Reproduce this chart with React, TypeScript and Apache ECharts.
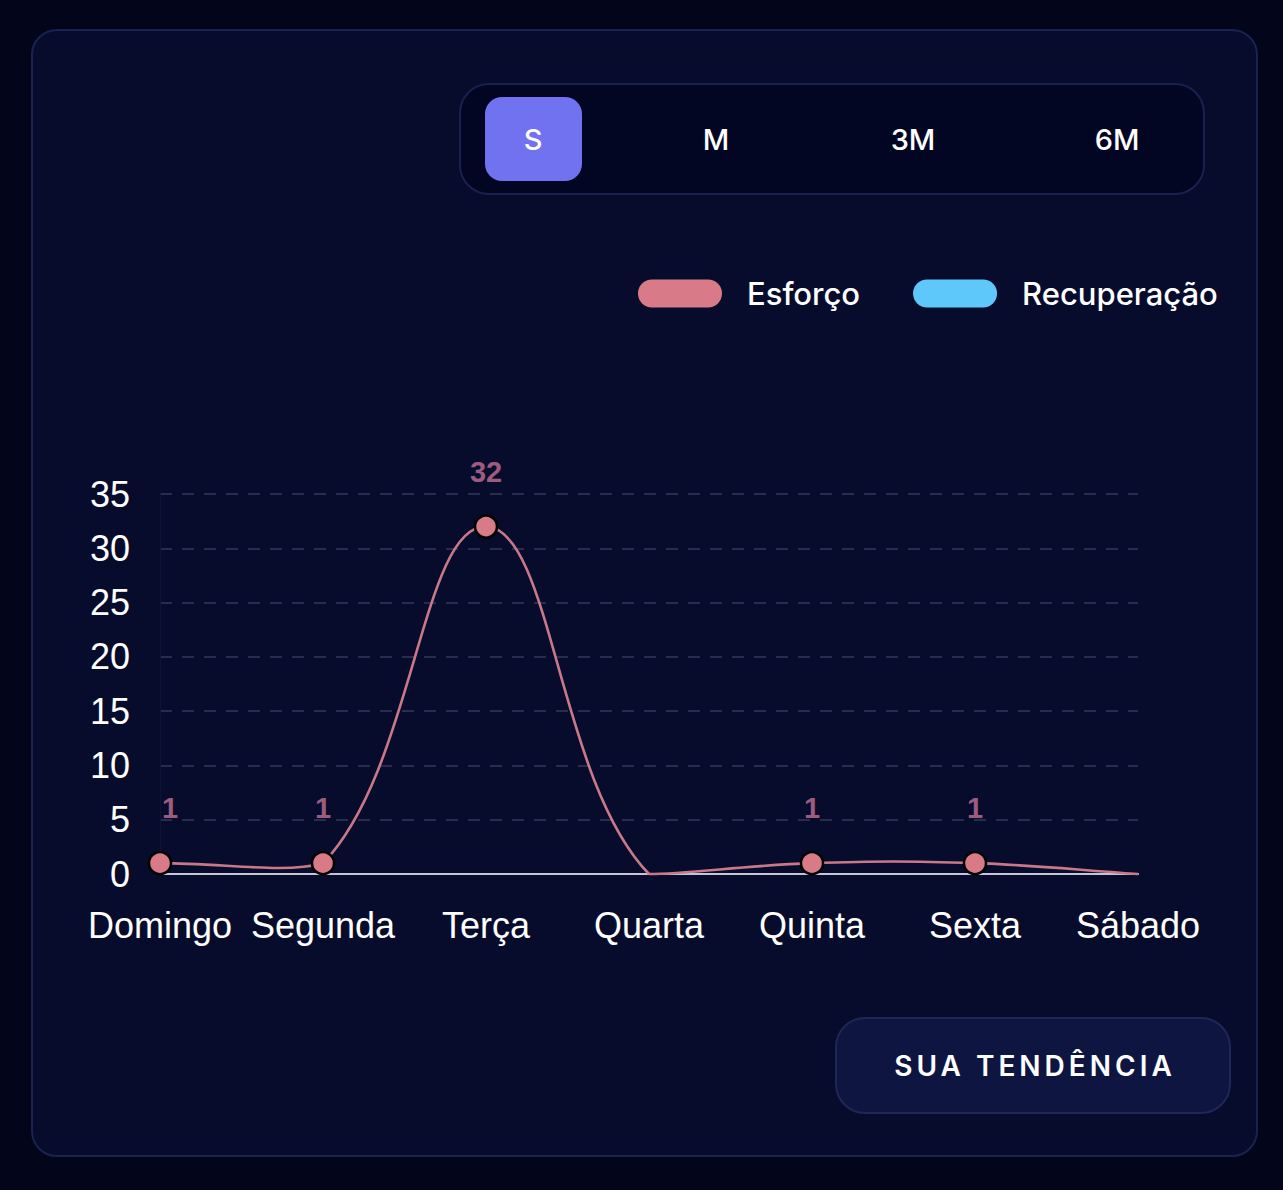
import React, { useEffect, useRef } from "react";
import * as echarts from "echarts";

const categories = ["Domingo", "Segunda", "Terça", "Quarta", "Quinta", "Sexta", "Sábado"];
const esforco = [1, 1, 32, 0, 1, 1, 0];
const recuperacao: (number | null)[] = [null, null, null, null, null, null, null];
const yTicks = { min: 0, max: 35, interval: 5 };
const periodTabs = ["S", "M", "3M", "6M"];
const legendNames = ["Esforço", "Recuperação"];

const UI_FONT = "Inter, 'Noto Sans', sans-serif";
const AXIS_FONT = "'Liberation Sans', Arial, Helvetica, sans-serif";
const TENSION = 0.4;

const pill = "path://M14,0 L70,0 A14,14 0 0 1 70,28 L14,28 A14,14 0 0 1 14,0 Z";

type Pt = { x: number; y: number };

function controlPoints(prev: Pt, cur: Pt, next: Pt, t: number) {
  const d01 = Math.hypot(cur.x - prev.x, cur.y - prev.y);
  const d12 = Math.hypot(next.x - cur.x, next.y - cur.y);
  let s01 = d01 / (d01 + d12);
  let s12 = d12 / (d01 + d12);
  if (isNaN(s01)) s01 = 0;
  if (isNaN(s12)) s12 = 0;
  const fa = t * s01;
  const fb = t * s12;
  return {
    previous: { x: cur.x - fa * (next.x - prev.x), y: cur.y - fa * (next.y - prev.y) },
    next: { x: cur.x + fb * (next.x - prev.x), y: cur.y + fb * (next.y - prev.y) },
  };
}

export default function App() {
  const ref = useRef<HTMLDivElement>(null);

  useEffect(() => {
    document.body.style.margin = "0";
    document.body.style.background = "#03061b";
    if (!ref.current) return;
    const chart = echarts.init(ref.current, null, { renderer: "svg" });
    const esforcoData = esforco.map((v, i) => ({
      value: v,
      symbolSize: v === 0 ? 0 : 22,
      label: {
        show: v !== 0,
        offset: i === 0 ? [10, 0] : [0, 0],
      },
    }));

    const renderCurve = (params: any, api: any) => {
      const i = params.dataIndex;
      if (i >= esforco.length - 1) return null;
      const cs = params.coordSys;
      const P = (k: number): Pt => {
        const kk = Math.max(0, Math.min(esforco.length - 1, k));
        const c = api.coord([kk, esforco[kk]]);
        return { x: c[0], y: c[1] };
      };
      const clampPt = (p: Pt): Pt => ({
        x: Math.max(cs.x, Math.min(cs.x + cs.width, p.x)),
        y: Math.max(cs.y, Math.min(cs.y + cs.height, p.y)),
      });
      const a = P(i);
      const b = P(i + 1);
      const cpA = controlPoints(P(i - 1), a, P(i + 1), TENSION).next;
      const cpB = controlPoints(a, b, P(i + 2), TENSION).previous;
      const c1 = clampPt(cpA);
      const c2 = clampPt(cpB);
      return {
        type: "bezierCurve",
        shape: {
          x1: a.x, y1: a.y, x2: b.x, y2: b.y,
          cpx1: c1.x, cpy1: c1.y, cpx2: c2.x, cpy2: c2.y,
        },
        style: { stroke: "#c97888", lineWidth: 2.6, fill: "none" },
      };
    };

    chart.setOption({
      animation: false,
      backgroundColor: "transparent",
      legend: {
        left: 633,
        top: 273,
        itemWidth: 84,
        itemHeight: 28,
        itemGap: 53,
        icon: pill,
        data: legendNames,
        itemStyle: { borderWidth: 0 },
        textStyle: {
          color: "#ffffff",
          fontFamily: UI_FONT,
          fontSize: 31,
          fontWeight: 500,
          padding: [0, 0, 0, 20],
          lineHeight: 28,
        },
      },
      grid: { left: 160, right: 145, top: 494, bottom: 316 },
      xAxis: {
        type: "category",
        data: categories,
        boundaryGap: false,
        axisLine: { show: true, lineStyle: { color: "#c4c6d8", width: 2 } },
        axisTick: { show: false },
        axisLabel: {
          color: "#ffffff",
          fontFamily: AXIS_FONT,
          fontSize: 36,
          margin: 33,
          interval: 0,
        },
        splitLine: { show: false },
      },
      yAxis: {
        type: "value",
        min: yTicks.min,
        max: yTicks.max,
        interval: yTicks.interval,
        axisLine: { show: true, lineStyle: { color: "#0d1236", width: 1 } },
        axisTick: { show: false },
        axisLabel: {
          color: "#ffffff",
          fontFamily: AXIS_FONT,
          fontSize: 36,
          margin: 30,
        },
        splitLine: {
          show: true,
          lineStyle: { color: "#282d50", width: 2, type: [12, 10] },
        },
      },
      series: [
        {
          type: "custom",
          name: "EsforçoCurve",
          renderItem: renderCurve,
          data: esforco.map((v, i) => [i, v]),
          encode: { x: 0, y: 1 },
          silent: true,
          z: 3,
        },
        {
          name: legendNames[0],
          type: "line",
          data: esforcoData,
          symbol: "circle",
          color: "#d87a87",
          lineStyle: { color: "#c97888", width: 0, opacity: 0 },
          itemStyle: { color: "#d87a87", borderColor: "#000000", borderWidth: 2.5 },
          label: {
            show: true,
            position: "top",
            distance: 28,
            color: "#9c5c7e",
            fontFamily: AXIS_FONT,
            fontSize: 29,
            fontWeight: "bold",
          },
          z: 5,
        },
        {
          name: legendNames[1],
          type: "line",
          data: recuperacao,
          color: "#5ec8fa",
          lineStyle: { color: "#5ec8fa", width: 2.5 },
          itemStyle: { color: "#5ec8fa" },
        },
      ],
    });
    return () => chart.dispose();
  }, []);

  return (
    <div style={{ position: "absolute", left: 0, top: 0, width: 1283, height: 1190, background: "#03061b", overflow: "hidden" }}>
      <div
        style={{
          position: "absolute",
          left: 31,
          top: 29,
          width: 1227,
          height: 1128,
          boxSizing: "border-box",
          borderRadius: 26,
          border: "2px solid #1a2252",
          background: "#070c2c",
        }}
      />
      <div
        style={{
          position: "absolute",
          left: 459,
          top: 83,
          width: 746,
          height: 112,
          boxSizing: "border-box",
          borderRadius: 30,
          border: "2px solid #1a2150",
          background: "#020622",
        }}
      />
      <div
        style={{
          position: "absolute",
          left: 485,
          top: 97,
          width: 97,
          height: 84,
          borderRadius: 17,
          background: "#7172f0",
        }}
      />
      {periodTabs.map((t, i) => {
        const centers = [533, 716, 913, 1117];
        return (
          <div
            key={t}
            style={{
              position: "absolute",
              left: centers[i] - 60,
              top: 118,
              width: 120,
              height: 44,
              lineHeight: "44px",
              textAlign: "center",
              color: "#ffffff",
              fontFamily: UI_FONT,
              fontSize: 29,
              fontWeight: 500,
            }}
          >
            {t}
          </div>
        );
      })}
      <div ref={ref} style={{ position: "absolute", left: 0, top: 0, width: 1283, height: 1190 }} />
      <div
        style={{
          position: "absolute",
          left: 835,
          top: 1017,
          width: 396,
          height: 97,
          boxSizing: "border-box",
          borderRadius: 30,
          border: "2px solid #1e2756",
          background: "#0e1540",
          color: "#ffffff",
          fontFamily: UI_FONT,
          fontSize: 28,
          fontWeight: 600,
          letterSpacing: "4px",
          display: "flex",
          alignItems: "center",
          justifyContent: "center",
          paddingLeft: 4,
        }}
      >
        SUA TENDÊNCIA
      </div>
    </div>
  );
}
